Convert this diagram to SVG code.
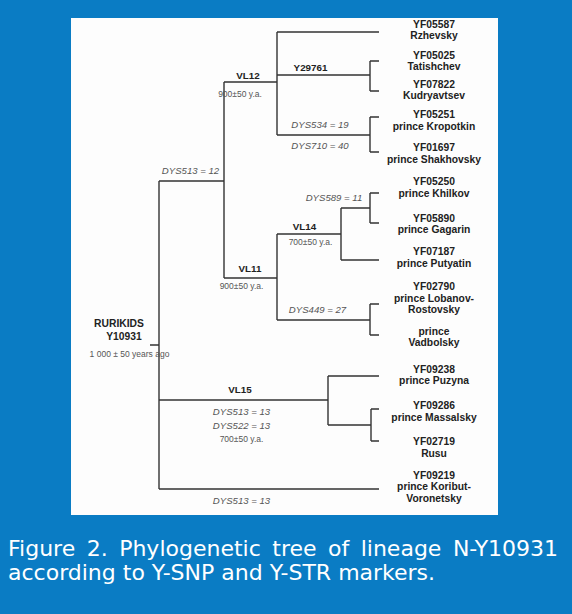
<svg xmlns="http://www.w3.org/2000/svg" width="572" height="614" viewBox="0 0 572 614">
<style>
.ln{fill:none;stroke:#333;stroke-width:1.4}
.lb{font-family:"Liberation Sans",Arial,sans-serif;font-weight:bold;font-size:10.3px;fill:#222;text-anchor:middle}
.nd{font-family:"Liberation Sans",Arial,sans-serif;font-weight:bold;font-size:9.8px;fill:#222;text-anchor:middle}
.it{font-family:"Liberation Sans",Arial,sans-serif;font-style:italic;font-size:9.6px;fill:#555;text-anchor:middle}
.ag{font-family:"Liberation Sans",Arial,sans-serif;font-size:8.5px;fill:#555;text-anchor:middle}
.cap{font-family:"DejaVu Sans",Verdana,sans-serif;font-size:22px;fill:#fff}
</style>
<rect x="0" y="0" width="572" height="614" fill="#0a7cc4"/>
<rect x="71" y="18" width="427" height="497" fill="#fdfdfd"/>
<g id="connectors">
<path class="ln" d="M150 345H159M159 181V489M159 181H224M224 82V278M224 82H277M277 32V135M277 32H379M277 75H370M370 61V91M370 61H379M370 91H379M277 135H370M370 117V152M370 117H379M370 152H379M224 278H277M277 234V320M277 234H341M341 208V260M341 208H370M370 193V223M370 193H379M370 223H379M341 260H379M277 320H370M370 304V335M370 304H379M370 335H379M159 400H328M328 376V425M328 376H379M328 425H371M371 409V441M371 409H379M371 441H379M159 489H379"/>
</g>
<g id="root"><text class="lb" x="119" y="327">RURIKIDS</text><text class="lb" x="124" y="340">Y10931</text><text class="ag" x="129.5" y="357">1 000 ± 50 years ago</text></g>
<g id="dys513-12"><text class="it" x="190.5" y="174">DYS513 = 12</text></g>
<g id="vl12"><text class="nd" x="248" y="79">VL12</text><text class="ag" x="240" y="97">900±50 y.a.</text></g>
<g id="y29761"><text class="nd" x="310.5" y="71">Y29761</text></g>
<g id="dys534"><text class="it" x="320" y="127.5">DYS534 = 19</text><text class="it" x="320" y="148.5">DYS710 = 40</text></g>
<g id="vl11"><text class="nd" x="250" y="272">VL11</text><text class="ag" x="241.5" y="289">900±50 y.a.</text></g>
<g id="vl14"><text class="nd" x="304.5" y="230">VL14</text><text class="ag" x="310.5" y="245">700±50 y.a.</text></g>
<g id="dys589"><text class="it" x="334" y="201">DYS589 = 11</text></g>
<g id="dys449"><text class="it" x="317.5" y="313">DYS449 = 27</text></g>
<g id="vl15"><text class="nd" x="240" y="392.5">VL15</text><text class="it" x="241.5" y="415">DYS513 = 13</text><text class="it" x="241.5" y="429">DYS522 = 13</text><text class="ag" x="241.5" y="442">700±50 y.a.</text></g>
<g id="dys513-13"><text class="it" x="241.5" y="503.5">DYS513 = 13</text></g>
<g id="rzhevsky"><text class="lb" x="434" y="28">YF05587</text><text class="lb" x="434" y="39">Rzhevsky</text></g>
<g id="tatishchev"><text class="lb" x="434" y="58.5">YF05025</text><text class="lb" x="434" y="70">Tatishchev</text></g>
<g id="kudryavtsev"><text class="lb" x="434" y="87.5">YF07822</text><text class="lb" x="434" y="99">Kudryavtsev</text></g>
<g id="kropotkin"><text class="lb" x="434" y="118">YF05251</text><text class="lb" x="434" y="129.5">prince Kropotkin</text></g>
<g id="shakhovsky"><text class="lb" x="434" y="151">YF01697</text><text class="lb" x="434" y="162.5">prince Shakhovsky</text></g>
<g id="khilkov"><text class="lb" x="434" y="185">YF05250</text><text class="lb" x="434" y="196.5">prince Khilkov</text></g>
<g id="gagarin"><text class="lb" x="434" y="221.5">YF05890</text><text class="lb" x="434" y="233">prince Gagarin</text></g>
<g id="putyatin"><text class="lb" x="434" y="255">YF07187</text><text class="lb" x="434" y="266.5">prince Putyatin</text></g>
<g id="lobanov"><text class="lb" x="434" y="290">YF02790</text><text class="lb" x="434" y="301.5">prince Lobanov-</text><text class="lb" x="434" y="312.5">Rostovsky</text></g>
<g id="vadbolsky"><text class="lb" x="434" y="334.5">prince</text><text class="lb" x="434" y="346">Vadbolsky</text></g>
<g id="puzyna"><text class="lb" x="434" y="372.5">YF09238</text><text class="lb" x="434" y="384">prince Puzyna</text></g>
<g id="massalsky"><text class="lb" x="434" y="409">YF09286</text><text class="lb" x="434" y="421">prince Massalsky</text></g>
<g id="rusu"><text class="lb" x="434" y="445">YF02719</text><text class="lb" x="434" y="456.5">Rusu</text></g>
<g id="koribut"><text class="lb" x="434" y="478.5">YF09219</text><text class="lb" x="434" y="490">prince Koribut-</text><text class="lb" x="434" y="501.5">Voronetsky</text></g>
<g id="caption"><text class="cap" x="8" y="556" style="word-spacing:4.5px">Figure 2. Phylogenetic tree of lineage N-Y10931</text><text class="cap" x="8" y="580">according to Y-SNP and Y-STR markers.</text></g>
</svg>
